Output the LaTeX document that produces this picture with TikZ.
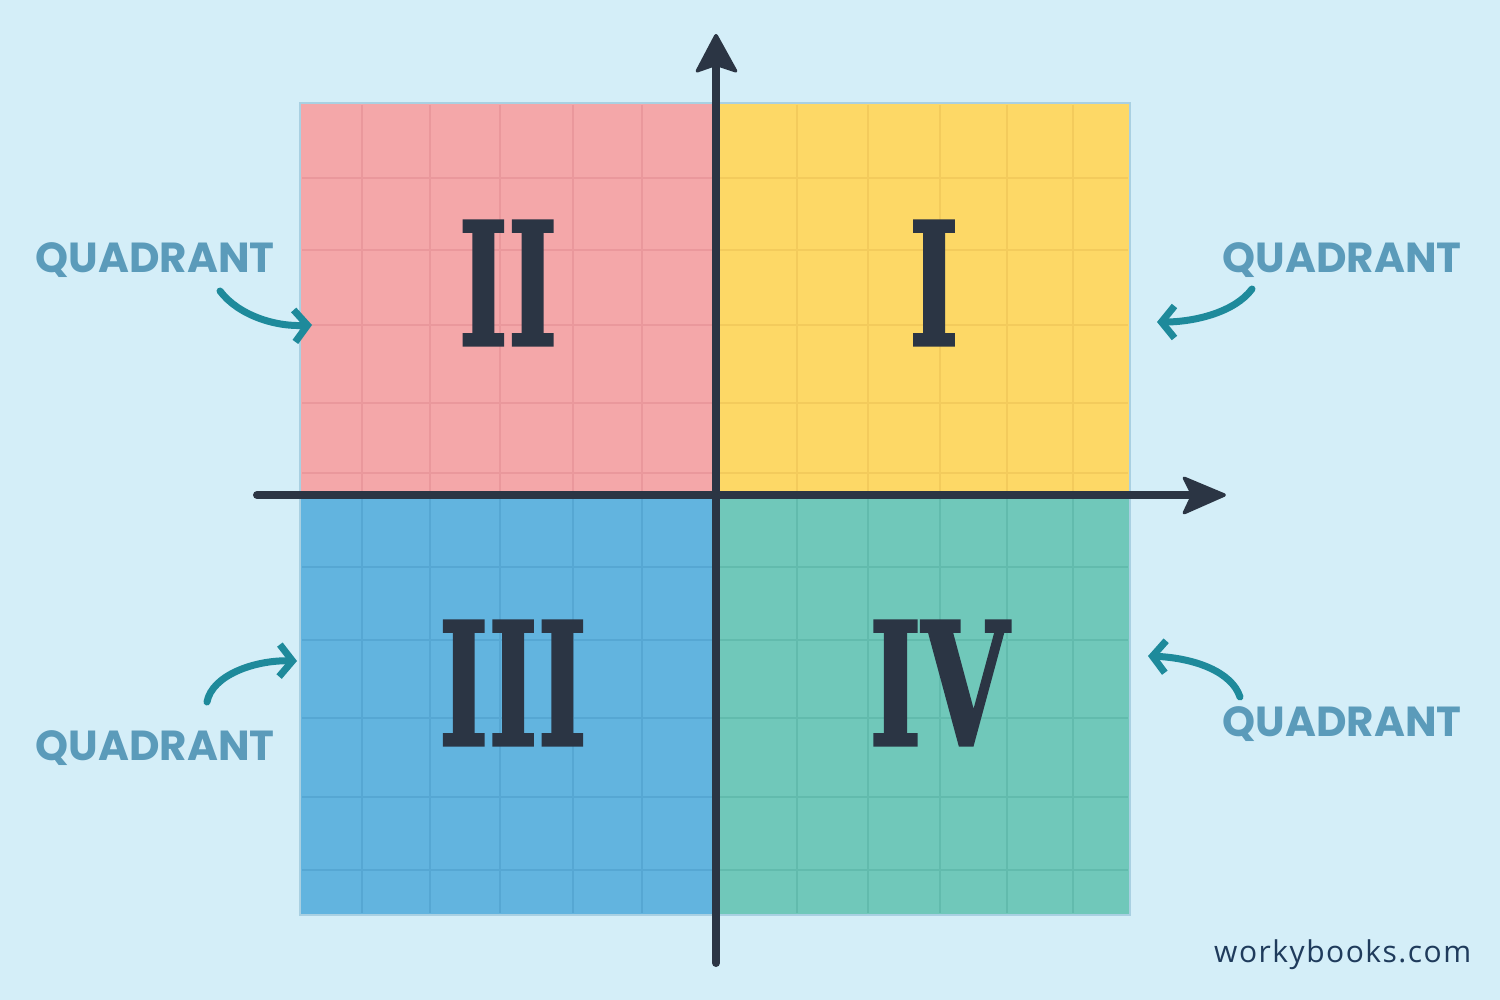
\documentclass[tikz,border=0pt]{standalone}
\usepackage{fontspec}
\usetikzlibrary{arrows.meta}
\newfontfamily\numfont[BoldFeatures={FakeBold=2}]{DejaVu Serif}
\newfontfamily\quadfont{Poppins}
\newfontfamily\siteFont[LetterSpace=5]{Open Sans}
\definecolor{bgc}{HTML}{D4EEF8}
\definecolor{pinkq}{HTML}{F4A7A9}
\definecolor{pinkg}{HTML}{EA989C}
\definecolor{yelq}{HTML}{FDD866}
\definecolor{yelg}{HTML}{F3CB5C}
\definecolor{bluq}{HTML}{62B4DF}
\definecolor{blug}{HTML}{56A7D3}
\definecolor{tealq}{HTML}{70C8BA}
\definecolor{tealg}{HTML}{62BBAD}
\definecolor{edgec}{HTML}{A9D0E2}
\definecolor{axisc}{HTML}{2B3544}
\definecolor{labc}{HTML}{5B9BBA}
\definecolor{arrc}{HTML}{1E8A9B}
\definecolor{sitec}{HTML}{1F3B5C}
\tikzset{
  quad/.style={draw=edgec, line width=2pt},
  gridl/.style={line width=2.5pt},
  axisline/.style={draw=axisc, line width=8pt, line cap=round},
  axishead/.style={fill=axisc, draw=axisc, line width=2pt, line join=round, rounded corners=2pt},
  numeral/.style={text=axisc, font=\numfont\bfseries\fontsize{170}{170}\selectfont, inner sep=0pt},
  qlabel/.style={text=labc, font=\quadfont\bfseries\fontsize{42}{42}\selectfont, inner sep=0pt},
  qarrow/.style={draw=arrc, line width=7pt, line cap=round, -{Straight Barb[length=13pt,width=32pt,line width=7pt]}}
}
\begin{document}
\begin{tikzpicture}[x=1pt,y=-1pt]
\useasboundingbox (0,0) rectangle (1500,1000);
\fill[bgc] (0,0) rectangle (1500,1000);
% quadrants
\fill[pinkq] (300,103) rectangle (716,495);
\fill[yelq] (716,103) rectangle (1130,495);
\fill[bluq] (300,495) rectangle (716,915);
\fill[tealq] (716,495) rectangle (1130,915);
% grid
\foreach \x in {362,430,500,573,642} {
  \draw[gridl,pinkg] (\x,105) -- (\x,493);
  \draw[gridl,blug] (\x,497) -- (\x,913);
}
\foreach \x in {797,868,940,1007,1073} {
  \draw[gridl,yelg] (\x,105) -- (\x,493);
  \draw[gridl,tealg] (\x,497) -- (\x,913);
}
\foreach \y in {178,250,325,403,473} {
  \draw[gridl,pinkg] (302,\y) -- (714,\y);
  \draw[gridl,yelg] (718,\y) -- (1128,\y);
}
\foreach \y in {567,640,718,797,870} {
  \draw[gridl,blug] (302,\y) -- (714,\y);
  \draw[gridl,tealg] (718,\y) -- (1128,\y);
}
\draw[quad] (300,103) rectangle (1130,915);
% axes
\coordinate (xs) at (257,495);
\coordinate (xe) at (1192,495);
\coordinate (ys) at (716,963);
\coordinate (ye) at (716,66);
\draw[axisline] (xs) -- (xe);
\draw[axisline] (ys) -- (ye);
\filldraw[axishead] (1226,495) -- (1183,477) -- (1192,495) -- (1183,514) -- cycle;
\filldraw[axishead] (716,34) -- (696,72) -- (716,65) -- (737,72) -- cycle;
% numerals
\node[numeral, xscale=0.62] (n2) at (508,283) {II};
\node[numeral, xscale=0.62] (n1) at (934,283) {I};
\node[numeral, xscale=0.62] (n3) at (513,683) {III};
\node[numeral, xscale=0.66] (n4) at (939,683) {IV};
% labels
\node[qlabel] (q2) at (155,260) {QUADRANT};
\node[qlabel] (q1) at (1342,260) {QUADRANT};
\node[qlabel] (q3) at (155,748) {QUADRANT};
\node[qlabel] (q4) at (1342,724) {QUADRANT};
% arrows
\coordinate (a2s) at (220,291);
\coordinate (a2e) at (312,325);
\coordinate (a1s) at (1252,289);
\coordinate (a1e) at (1157,322);
\coordinate (a3s) at (207,702);
\coordinate (a3e) at (297,661);
\coordinate (a4s) at (1240,697);
\coordinate (a4e) at (1148,656);
\draw[qarrow] (a2s) .. controls (238,315) and (275,327) .. (a2e);
\draw[qarrow] (a1s) .. controls (1235,312) and (1195,322) .. (a1e);
\draw[qarrow] (a3s) .. controls (212,675) and (255,660) .. (a3e);
\draw[qarrow] (a4s) .. controls (1232,672) and (1195,658) .. (a4e);
% site
\node[text=sitec, font=\siteFont\fontsize{30}{30}\selectfont, inner sep=0pt, anchor=base west] (site) at (1214,962) {workybooks.com};
\end{tikzpicture}
\end{document}
